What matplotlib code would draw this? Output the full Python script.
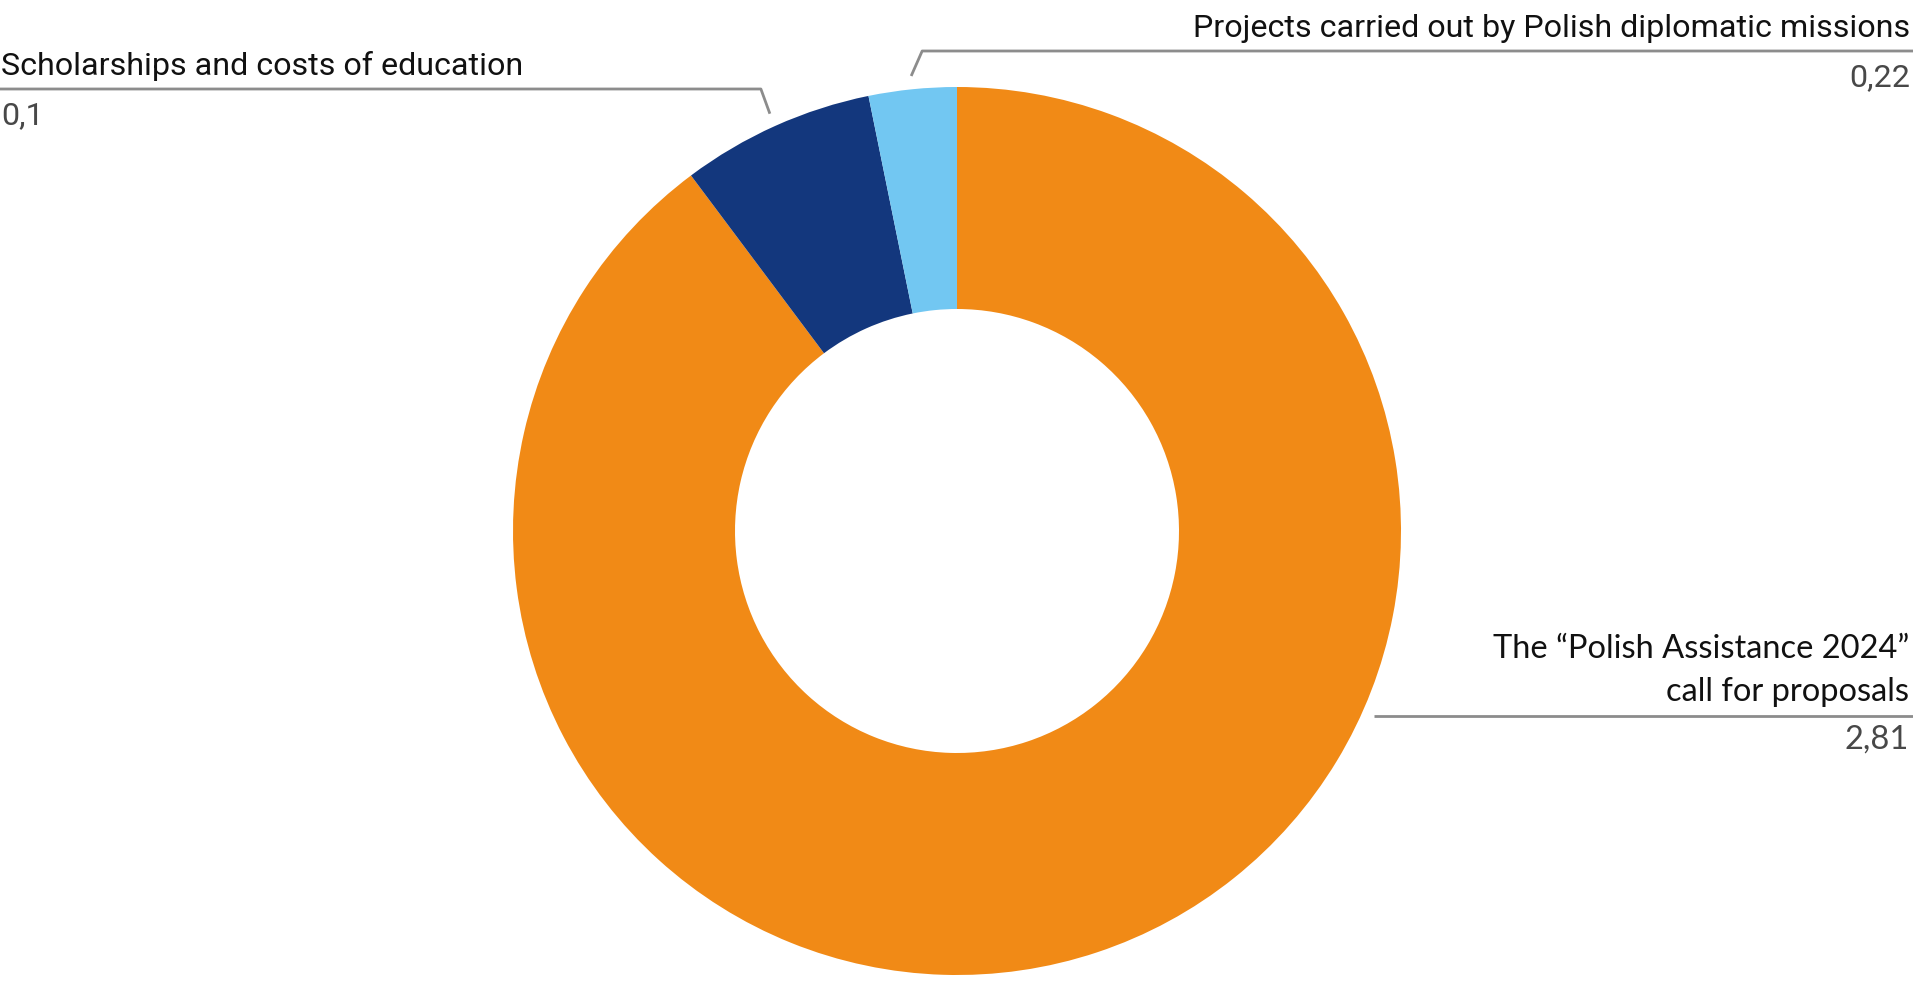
import numpy as np
import matplotlib
matplotlib.use('Agg')
import matplotlib.pyplot as plt

# slice sizes as drawn in the picture (clockwise from the top)
categories = ['The \u201cPolish Assistance 2024\u201d\ncall for proposals',
              'Scholarships and costs of education',
              'Projects carried out by Polish diplomatic missions']
slice_sizes = [2.81, 0.22, 0.10]
value_labels = ['2,81', '0,1', '0,22']
colors = ['#f18a16', '#13377d', '#72c7f2']

W, H = 1913, 992
fig = plt.figure(figsize=(W / 100, H / 100), dpi=100)
ax = fig.add_axes([0, 0, 1, 1])

cx, cy, R = 957, H - 531, 444
wedges, _ = ax.pie(slice_sizes, colors=colors, startangle=90, counterclock=False,
                   center=(cx, cy), radius=R, wedgeprops=dict(width=R * 0.5, linewidth=0))
ax.set_xlim(0, W)
ax.set_ylim(0, H)
ax.set_aspect('equal')
ax.axis('off')

line_col = '#8c8c8c'
val_col = '#484848'
top_font = dict(family=['Roboto', 'DejaVu Sans'], fontsize=23.2)
low_font = dict(family=['Lato', 'DejaVu Sans'], fontsize=23.5)


def wedge_point(w, rfac):
    ang = np.deg2rad((w.theta1 + w.theta2) / 2)
    return cx + R * rfac * np.cos(ang), cy + R * rfac * np.sin(ang)


# Scholarships - label on the left
ex, ey = wedge_point(wedges[1], 1.03)
ly = H - 89
ax.plot([0, ex - 9, ex], [ly, ly, ey], color=line_col, lw=2, solid_capstyle='butt')
ax.text(1, ly + 14, categories[1], ha='left', va='baseline', color='#111111', **top_font)
ax.text(1, ly - 35, value_labels[1], ha='left', va='baseline', color=val_col, **top_font)

# Projects - label on the right, top
ex, ey = wedge_point(wedges[2], 1.03)
ly = H - 51
ax.plot([W, ex + 11, ex], [ly, ly, ey], color=line_col, lw=2, solid_capstyle='butt')
ax.text(W - 3, ly + 14, categories[2], ha='right', va='baseline', color='#111111', **top_font)
ax.text(W - 3, ly - 35, value_labels[2], ha='right', va='baseline', color=val_col, **top_font)

# main call - label on the right, bottom
ly = H - 716
ax.plot([1374, W], [ly, ly], color=line_col, lw=2, solid_capstyle='butt')
for i, line in enumerate(categories[0].split('\n')[::-1]):
    ax.text(W - 4, ly + 15 + 43 * i, line, ha='right', va='baseline', color='#111111',
            **low_font)
ax.text(W - 4, ly - 33, value_labels[0], ha='right', va='baseline', color=val_col, **low_font)

fig.savefig('out.png', dpi=100)
